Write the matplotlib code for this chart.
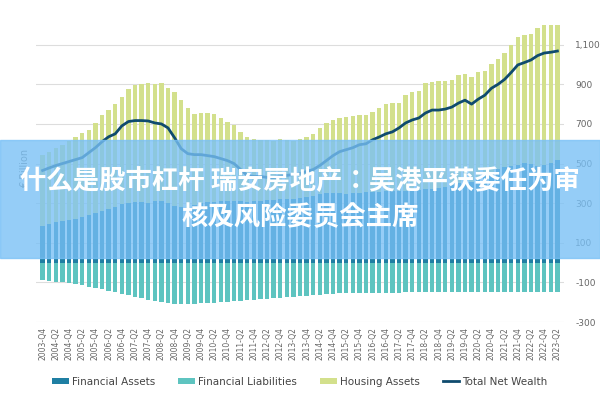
import matplotlib.pyplot as plt
from matplotlib.patches import Rectangle
from matplotlib import font_manager
import numpy as np

# quarters 2003-Q4 .. 2023-Q2
quarters = ["2003-Q4"] + [f"{y}-Q{q}" for y in range(2004, 2023) for q in range(1, 5)] + ["2023-Q1", "2023-Q2"]

financial_assets = [185, 195, 205, 210, 215, 220, 230, 240, 250, 260, 270, 280, 295, 300, 305, 305,
                    300, 310, 312, 300, 285, 280, 275, 290, 300, 305, 308, 310, 312, 310, 310, 308,
                    310, 312, 315, 318, 320, 322, 320, 325, 330, 335, 345, 350, 350, 352, 348, 350,
                    352, 355, 355, 358, 360, 360, 362, 360, 365, 368, 370, 372, 375, 380, 390, 400,
                    410, 405, 425, 440, 455, 470, 485, 490, 495, 505, 500, 490, 495, 505, 520]
housing_assets = [360, 365, 375, 385, 400, 414, 425, 430, 454, 485, 500, 520, 542, 575, 590, 595,
                  605, 590, 593, 580, 575, 540, 503, 462, 455, 450, 442, 420, 400, 385, 350, 326,
                  315, 308, 305, 297, 305, 298, 295, 300, 304, 315, 335, 354, 370, 378, 387, 388,
                  393, 390, 405, 420, 440, 445, 446, 485, 495, 497, 535, 540, 540, 538, 530, 545,
                  540, 530, 535, 525, 550, 560, 572, 610, 645, 645, 655, 695, 705, 695, 680]
financial_liabilities = [-88, -92, -96, -100, -105, -110, -115, -122, -128, -135, -142, -150, -158, -165, -172, -180,
                         -188, -195, -200, -205, -207, -208, -208, -207, -206, -205, -203, -200, -198, -195, -192, -190,
                         -188, -185, -182, -180, -178, -175, -172, -170, -168, -165, -163, -160, -158, -156, -155, -155,
                         -154, -154, -153, -153, -152, -152, -152, -151, -151, -151, -150, -150, -150, -150, -150, -150,
                         -150, -150, -150, -150, -150, -150, -150, -150, -150, -150, -150, -150, -150, -150, -150]
net_wealth = [465, 478, 490, 500, 510, 520, 530, 555, 580, 610, 635, 650, 690, 712, 717, 717,
              715, 705, 700, 680, 630, 575, 550, 545, 545, 540, 535, 525, 515, 500, 470, 440,
              435, 435, 430, 430, 435, 440, 445, 450, 460, 470, 490, 515, 540, 560, 570, 580,
              595, 600, 620, 634, 650, 660, 680, 705, 720, 730, 755, 770, 770, 775, 785, 805,
              820, 800, 825, 845, 880, 900, 925, 960, 998, 1010, 1023, 1045, 1058, 1062, 1068]

c_fa = "#1f7fa3"
c_fl = "#5ec4c0"
c_ha = "#d3e08c"
c_nw = "#0f4b6e"

# find a CJK font file
cjk = None
for f in font_manager.fontManager.ttflist:
    if "Noto Sans CJK" in f.name and ("Bold" in f.fname or f.weight in (700, "bold")):
        cjk = f.fname
        break
if cjk is None:
    for f in font_manager.fontManager.ttflist:
        if "CJK" in f.name:
            cjk = f.fname
            break
cjk_prop = font_manager.FontProperties(fname=cjk, size=19) if cjk else font_manager.FontProperties(size=19)

fig = plt.figure(figsize=(6, 4), dpi=100)
ax = fig.add_axes([0.06, 0.195, 0.88, 0.7675])
x = np.arange(len(quarters))
w = 0.65
b1 = ax.bar(x, financial_assets, w, color=c_fa, zorder=2)
b2 = ax.bar(x, financial_liabilities, w, color=c_fl, zorder=2)
b3 = ax.bar(x, housing_assets, w, bottom=financial_assets, color=c_ha, zorder=2)
ln, = ax.plot(x, net_wealth, color=c_nw, lw=2, zorder=3)

ax.set_ylim(-300, 1250)
ax.set_xlim(-1, len(quarters))
ax.set_yticks(range(-300, 1101, 200))
ax.set_yticklabels([f"{v:,}" for v in range(-300, 1101, 200)])
ax.yaxis.tick_right()
ax.set_xticks(x[::2])
ax.set_xticklabels(quarters[::2], rotation=90, fontsize=5.5, color="#666666")
ax.tick_params(axis="y", labelsize=6.5, colors="#666666", length=0, pad=8)
ax.tick_params(axis="x", length=0)
ax.grid(axis="y", color="#dddddd", lw=0.8, zorder=0)
for s in ax.spines.values():
    s.set_visible(False)
ax.set_ylabel("€ Billion", fontsize=7, color="#777777")
ax.yaxis.set_label_position("left")

fig.legend([b1, b2, b3, ln], ["Financial Assets", "Financial Liabilities", "Housing Assets", "Total Net Wealth"],
           loc="lower center", bbox_to_anchor=(0.5, 0.01), ncol=4, frameon=False,
           fontsize=7.5, handlelength=1.6, handleheight=0.5, handletextpad=0.3,
           columnspacing=2.2, labelcolor="#444444")

# banner overlay
fig.patches.append(Rectangle((0, 0.355), 1, 0.295, transform=fig.transFigure,
                             color="#78c0f6", alpha=0.78, zorder=10))
fig.text(0.5, 0.543, "什么是股市杠杆 瑞安房地产：吴港平获委任为审", ha="center", va="center",
         fontproperties=cjk_prop, color="white", fontweight="bold", zorder=11)
fig.text(0.5, 0.455, "核及风险委员会主席", ha="center", va="center",
         fontproperties=cjk_prop, color="white", fontweight="bold", zorder=11)

fig.savefig("out.png", dpi=100)
